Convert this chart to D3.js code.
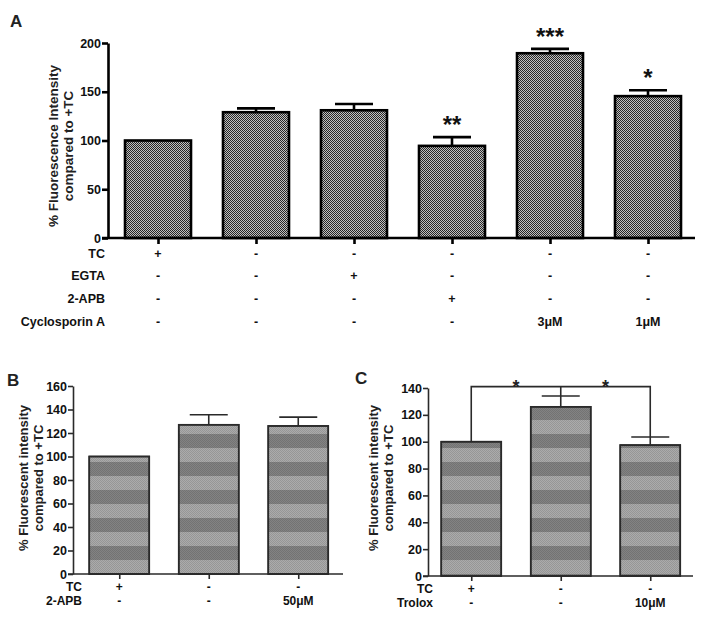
<!DOCTYPE html>
<html><head><meta charset="utf-8">
<script src="https://cdn.jsdelivr.net/npm/d3@7/dist/d3.min.js"></script>
<style>body{margin:0;background:#fff}svg{display:block}svg text{font-family:"Liberation Sans",Arial,sans-serif}</style>
</head><body>
<svg id="c" width="703" height="618"></svg>
<script>
// ---------- Panel A data ----------
const catsA = ["c1","c2","c3","c4","c5","c6"];
const valuesA = [100, 129, 131, 94.5, 189.5, 145.5];
const errorsA = [0, 4, 6.5, 9, 4.5, 6];
const starsA = ["", "", "", "**", "***", "*"];
const ticksA = [0, 50, 100, 150, 200];
const rowNamesA = ["TC", "EGTA", "2-APB", "Cyclosporin A"];
const rowsA = [
  ["+","-","-","-","-","-"],
  ["-","-","+","-","-","-"],
  ["-","-","-","+","-","-"],
  ["-","-","-","-","3\u03bcM","1\u03bcM"]
];
// ---------- Panel B data ----------
const catsB = ["b1","b2","b3"];
const valuesB = [100, 127, 126];
const errorsB = [0, 8.5, 7.5];
const ticksB = [0,20,40,60,80,100,120,140,160];
const rowNamesB = ["TC","2-APB"];
const rowsB = [["+","-","-"],["-","-","50\u03bcM"]];
// ---------- Panel C data ----------
const catsC = ["t1","t2","t3"];
const valuesC = [100, 126, 97.5];
const errorsC = [0, 8, 6];
const ticksC = [0,20,40,60,80,100,120,140];
const rowNamesC = ["TC","Trolox"];
const rowsC = [["+","-","-"],["-","-","10\u03bcM"]];
const bracketC = {from:0, to:2, mid:1, level:141, stars:["*","*"]};

const svg = d3.select("#c");
const defs = svg.append("defs");
const pa = defs.append("pattern").attr("id","checker").attr("patternUnits","userSpaceOnUse").attr("width",2).attr("height",2);
pa.append("rect").attr("width",2).attr("height",2).attr("fill","#c0c0c0");
pa.append("rect").attr("width",1).attr("height",1).attr("fill","#262626");
pa.append("rect").attr("x",1).attr("y",1).attr("width",1).attr("height",1).attr("fill","#262626");
const ps = defs.append("pattern").attr("id","stripes").attr("patternUnits","userSpaceOnUse").attr("width",4).attr("height",28);
ps.append("rect").attr("width",4).attr("height",28).attr("fill","#ababab");
ps.append("rect").attr("y",14).attr("width",4).attr("height",14).attr("fill","#838383");
const pt = defs.append("pattern").attr("id","tex").attr("patternUnits","userSpaceOnUse").attr("width",2).attr("height",2);
pt.append("rect").attr("width",1).attr("height",1).attr("fill","rgba(0,0,0,0.12)");
pt.append("rect").attr("x",1).attr("y",1).attr("width",1).attr("height",1).attr("fill","rgba(0,0,0,0.12)");

function panel(o){
  const g = svg.append("g");
  const x = d3.scalePoint().domain(o.cats).range(o.xr).padding(0.5);
  const y = d3.scaleLinear().domain([0, o.ymax]).range(o.yr);
  const bars = g.selectAll(".bar").data(o.values).join("g");
  bars.append("rect")
    .attr("x",(d,i)=>x(o.cats[i])-o.bw/2).attr("width",o.bw)
    .attr("y",d=>y(d)).attr("height",d=>y(0)-y(d))
    .attr("fill",o.fill).attr("stroke",o.stroke).attr("stroke-width",o.sw);
  if(o.fill2){
    bars.append("rect")
      .attr("x",(d,i)=>x(o.cats[i])-o.bw/2).attr("width",o.bw)
      .attr("y",d=>y(d)).attr("height",d=>y(0)-y(d))
      .attr("fill",o.fill2).attr("stroke",o.stroke).attr("stroke-width",o.sw);
  }
  o.values.forEach((v,i)=>{
    if(!o.errors[i]) return;
    const cx = x(o.cats[i]);
    g.append("line").attr("x1",cx).attr("x2",cx).attr("y1",y(v)).attr("y2",y(v+o.errors[i]))
      .attr("stroke",o.stroke).attr("stroke-width",o.sw);
    g.append("line").attr("x1",cx-o.cap).attr("x2",cx+o.cap).attr("y1",y(v+o.errors[i])).attr("y2",y(v+o.errors[i]))
      .attr("stroke",o.stroke).attr("stroke-width",o.sw);
  });
  const ya = g.append("g").attr("transform",`translate(${o.x0},0)`)
    .call(d3.axisLeft(y).tickValues(o.ticks).tickSize(o.tick).tickPadding(1).tickSizeOuter(0));
  ya.select(".domain").attr("stroke",o.stroke).attr("stroke-width",o.sw);
  ya.selectAll(".tick line").attr("stroke",o.stroke).attr("stroke-width",o.sw);
  ya.selectAll(".tick text").attr("fill","#111").style("font-size",o.tfs+"px").style("font-weight","bold");
  const xa = g.append("g").attr("transform",`translate(0,${y(0)})`)
    .call(d3.axisBottom(x).tickSize(o.tick).tickFormat(""));
  xa.select(".domain").attr("d",`M${o.x0 - o.tick},0H${o.xend}`).attr("stroke",o.stroke).attr("stroke-width",o.sw);
  xa.selectAll(".tick line").attr("stroke",o.stroke).attr("stroke-width",o.sw);
  o.rowNames.forEach((nm,r)=>{
    g.append("text").attr("x",o.rowX).attr("y",o.rowY[r]).attr("text-anchor","end")
      .style("font-size",o.rfs+"px").style("font-weight","bold").attr("fill","#111").text(nm);
    o.rows[r].forEach((t,i)=>{
      g.append("text").attr("x",x(o.cats[i])).attr("y",o.rowY[r]).attr("text-anchor","middle")
        .style("font-size",o.rfs+"px").style("font-weight","bold").attr("fill","#111").text(t);
    });
  });
  const tt = g.append("text").attr("transform",`translate(${o.titleX},${o.titleY}) rotate(-90)`)
    .attr("text-anchor","middle").style("font-size",o.yfs+"px").style("font-weight","bold").attr("fill","#222");
  tt.append("tspan").attr("x",0).attr("dy",0).text(o.title[0]);
  tt.append("tspan").attr("x",0).attr("dy",o.lh).text(o.title[1]);
  g.append("text").attr("x",o.letter[1]).attr("y",o.letter[2]).style("font-size","17px").style("font-weight","bold").attr("fill","#222").text(o.letter[0]);
  return {g,x,y};
}

const A = panel({cats:catsA, values:valuesA, errors:errorsA, ticks:ticksA, ymax:200,
  xr:[109,697], yr:[238,43], x0:108, xend:695, bw:66, cap:19, fill:"url(#checker)", stroke:"#000", sw:2.6, tick:6, tfs:12.5,
  rowNames:rowNamesA, rows:rowsA, rowX:105, rowY:[258,280,303,326], rfs:12.5,
  title:["% Fluorescence Intensity","compared to +TC"], titleX:58, titleY:146, lh:15, yfs:13.5,
  letter:["A",10,27]});
starsA.forEach((s,i)=>{
  if(!s) return;
  A.g.append("text").attr("x",A.x(catsA[i])).attr("y",A.y(valuesA[i]+errorsA[i])-4).attr("text-anchor","middle")
    .style("font-size","24px").style("font-weight","bold").attr("fill","#111").text(s);
});

panel({cats:catsB, values:valuesB, errors:errorsB, ticks:ticksB, ymax:160,
  xr:[74.5,343], yr:[574,386], x0:73, xend:343, bw:60, cap:19, fill:"url(#stripes)", fill2:"url(#tex)", stroke:"#2a2a2a", sw:1.6, tick:5, tfs:12.5,
  rowNames:rowNamesB, rows:rowsB, rowX:82, rowY:[591,605], rfs:12,
  title:["% Fluorescent intensity","compared to +TC"], titleX:28, titleY:478, lh:15, yfs:13,
  letter:["B",7,386]});

const C = panel({cats:catsC, values:valuesC, errors:errorsC, ticks:ticksC, ymax:140,
  xr:[426.5,695], yr:[576,388], x0:428, xend:693, bw:60, cap:19, fill:"url(#stripes)", fill2:"url(#tex)", stroke:"#2a2a2a", sw:1.6, tick:5, tfs:12.5,
  rowNames:rowNamesC, rows:rowsC, rowX:433, rowY:[593,607], rfs:12,
  title:["% Fluorescent intensity","compared to +TC"], titleX:378, titleY:478, lh:15, yfs:13,
  letter:["C",355,384]});
{
  const b = bracketC, x = C.x, y = C.y;
  const x1 = x(catsC[b.from]), x2 = x(catsC[b.to]), xm = x(catsC[b.mid]), yl = y(b.level);
  const path = d3.path();
  path.moveTo(x1, y(valuesC[b.from] + errorsC[b.from])); path.lineTo(x1, yl); path.lineTo(x2, yl);
  path.lineTo(x2, y(valuesC[b.to] + errorsC[b.to]));
  path.moveTo(xm, yl); path.lineTo(xm, y(valuesC[b.mid] + errorsC[b.mid]));
  C.g.append("path").attr("d",path.toString()).attr("fill","none").attr("stroke","#2a2a2a").attr("stroke-width",1.6);
  [[(x1+xm)/2, b.stars[0]], [(xm+x2)/2, b.stars[1]]].forEach(([sx,s])=>{
    C.g.append("text").attr("x",sx).attr("y",yl+6).attr("text-anchor","middle").style("font-size","18px").style("font-weight","bold").attr("fill","#222").text(s);
  });
}
</script>
</body></html>
